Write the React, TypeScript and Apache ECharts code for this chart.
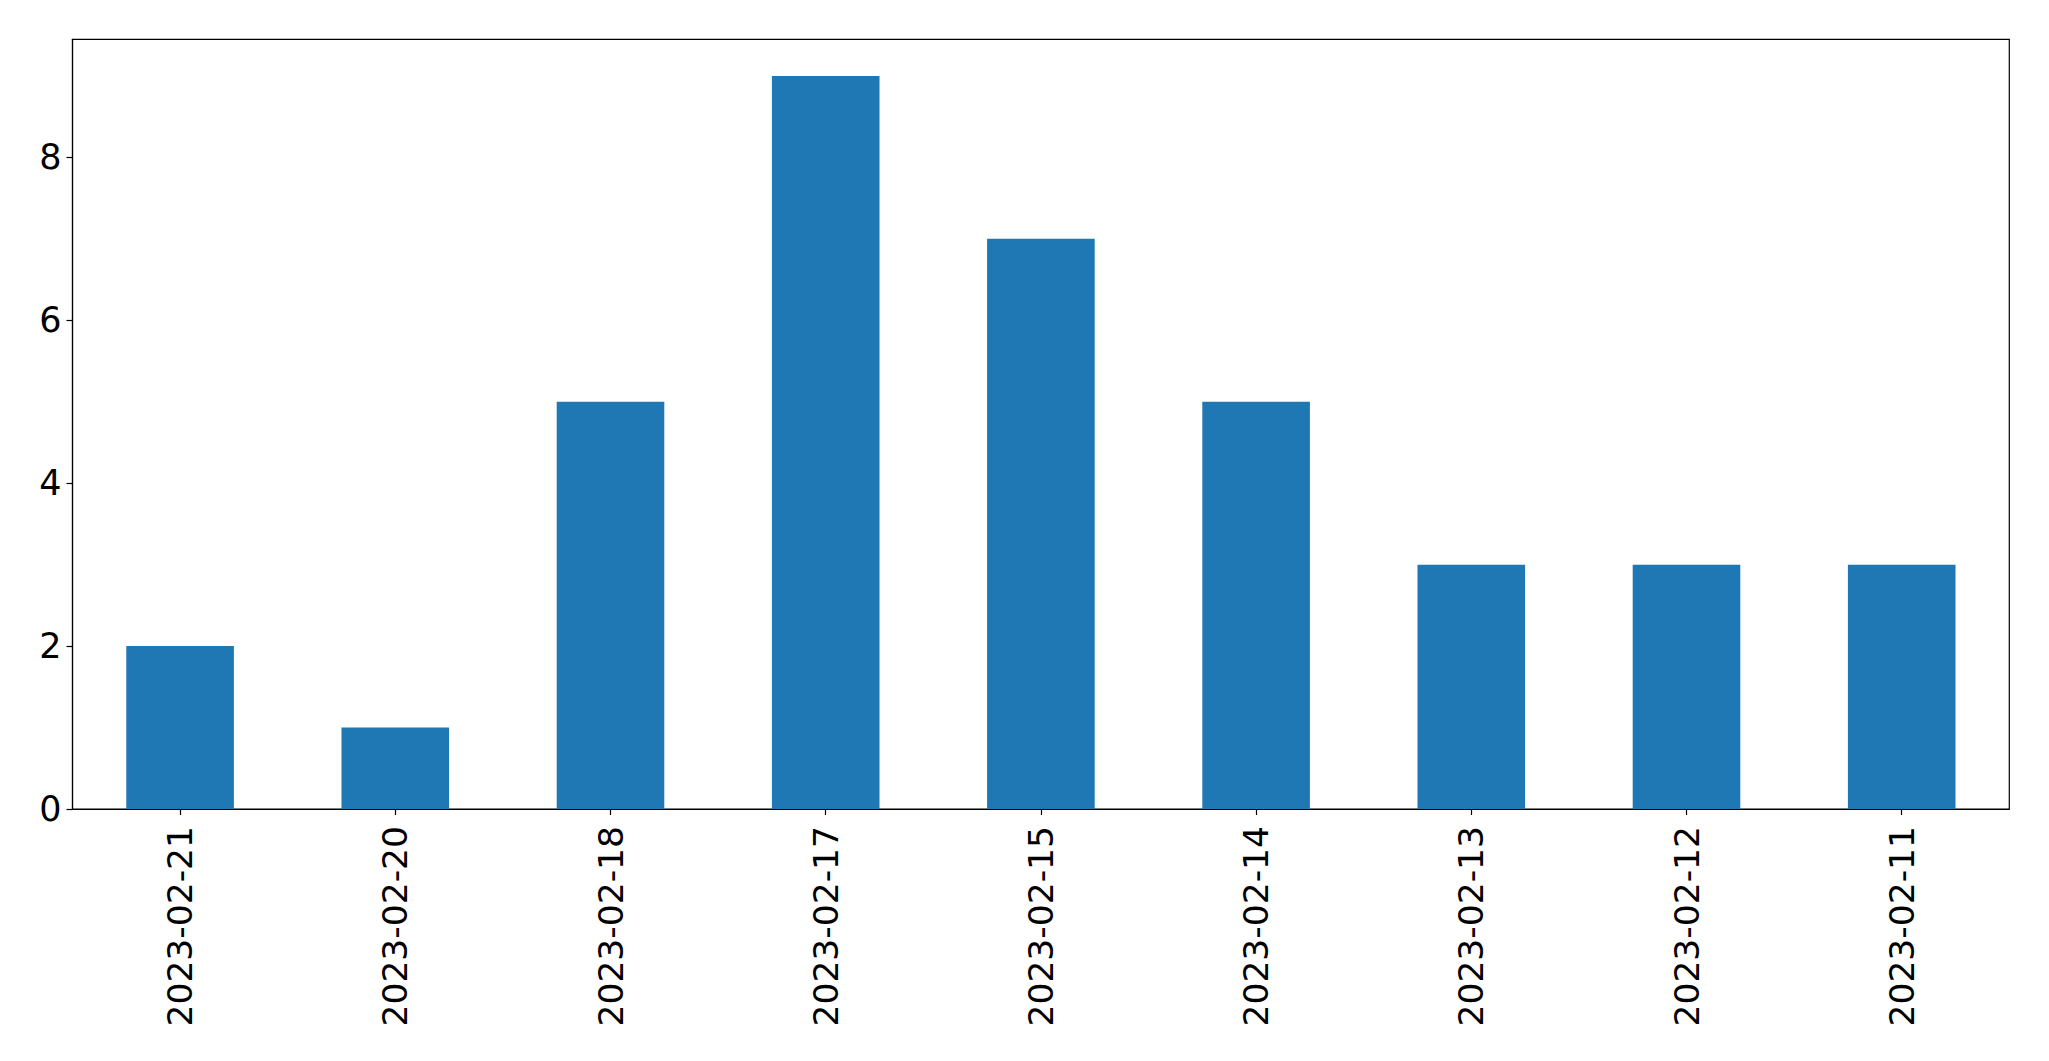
import React, { useEffect, useRef } from "react";
import * as echarts from "echarts";

const categories = [
  "2023-02-21",
  "2023-02-20",
  "2023-02-18",
  "2023-02-17",
  "2023-02-15",
  "2023-02-14",
  "2023-02-13",
  "2023-02-12",
  "2023-02-11",
];
const counts = [2, 1, 5, 9, 7, 5, 3, 3, 3];
const yTicks = [0, 2, 4, 6, 8];
const yMax = 9.45;

export default function App() {
  const ref = useRef<HTMLDivElement>(null);
  useEffect(() => {
    if (!ref.current) return;
    const chart = echarts.init(ref.current, null, { renderer: "svg" });
    const font = "DejaVu Sans";
    chart.setOption({
      animation: false,
      backgroundColor: "#ffffff",
      grid: {
        left: 72.5,
        right: 39.7,
        top: 39.3,
        bottom: 252,
        show: true,
        borderColor: "#000000",
        borderWidth: 1.2,
        backgroundColor: "transparent",
        containLabel: false,
      },
      xAxis: {
        type: "category",
        data: categories,
        axisLine: { show: true, lineStyle: { color: "#000000", width: 1.2 } },
        axisTick: { show: true, alignWithLabel: true, length: 6, lineStyle: { color: "#000000", width: 1.2 } },
        axisLabel: {
          rotate: 90,
          fontSize: 34.5,
          fontFamily: font,
          color: "#000000",
          margin: 17,
          interval: 0,
        },
        splitLine: { show: false },
      },
      yAxis: {
        type: "value",
        min: 0,
        max: yMax,
        interval: 2,
        axisLine: { show: true, lineStyle: { color: "#000000", width: 1.2 } },
        axisTick: { show: true, length: 6, customValues: yTicks, lineStyle: { color: "#000000", width: 1.2 } },
        axisLabel: {
          fontSize: 35,
          fontFamily: font,
          color: "#000000",
          margin: 11,
          customValues: yTicks,
          formatter: (v: number) => String(v),
        },
        splitLine: { show: false },
      },
      series: [
        {
          type: "bar",
          data: counts,
          barWidth: "50%",
          itemStyle: { color: "#1f77b4" },
        },
      ],
    });
    return () => chart.dispose();
  }, []);
  return (
    <div
      ref={ref}
      style={{ position: "fixed", left: 0, top: 0, width: 2049, height: 1061, background: "#fff" }}
    />
  );
}
